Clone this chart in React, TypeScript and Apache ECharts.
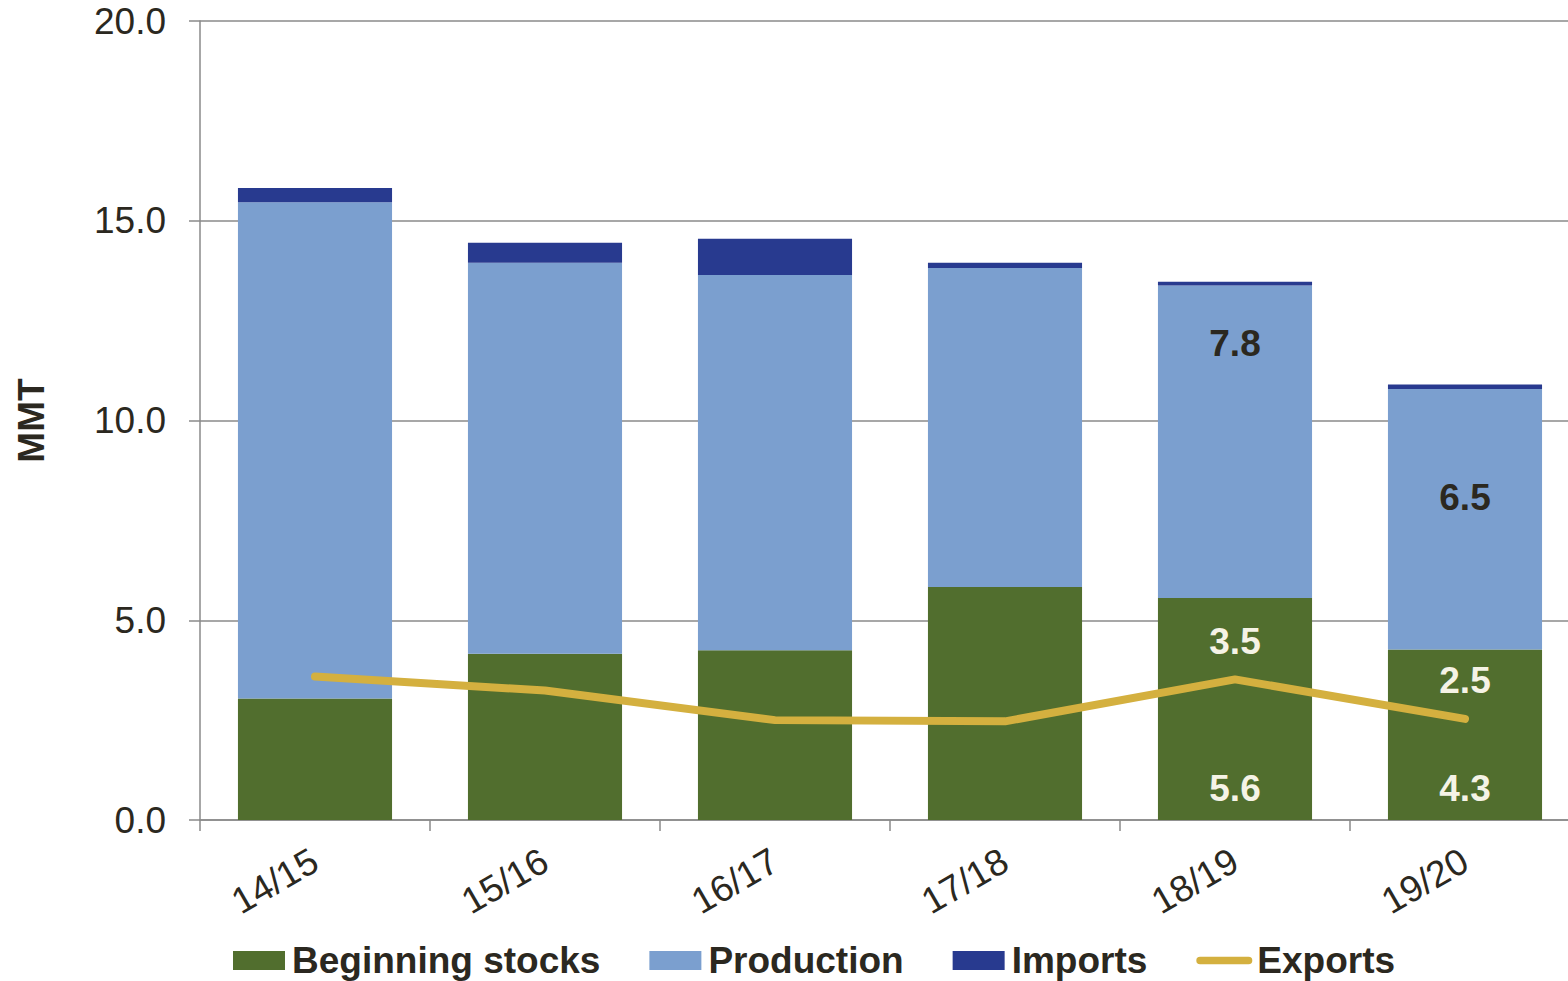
import React, { useEffect, useRef } from "react";
import * as echarts from "echarts";

const categories = ["14/15", "15/16", "16/17", "17/18", "18/19", "19/20"];
const beginningStocks = [3.04, 4.16, 4.25, 5.83, 5.56, 4.27];
const production = [12.42, 9.79, 9.39, 7.99, 7.82, 6.52];
const imports = [0.36, 0.5, 0.91, 0.13, 0.09, 0.11];
const exportsData = [3.59, 3.24, 2.5, 2.47, 3.52, 2.53];
const yTicks = [0, 5, 10, 15, 20];

const FONT = "'Liberation Sans', Arial, sans-serif";
const DARK = "#2b2820";
const CREAM = "#f5f3e6";
const GRAY = "#8a8a8a";
const GOLD = "#d4b03f";

const labelBase = {
  show: true,
  fontFamily: FONT,
  fontSize: 37,
  fontWeight: "bold",
  opacity: 1,
  textBorderWidth: 0,
  formatter: (p: any) => Number(p.value).toFixed(1),
};

export default function App() {
  const ref = useRef<HTMLDivElement>(null);
  useEffect(() => {
    if (!ref.current) return;
    const chart = echarts.init(ref.current, undefined, { renderer: "svg" });
    const bsData = beginningStocks.map((v, i) =>
      i >= 4
        ? { value: v, label: { ...labelBase, color: CREAM, position: "insideBottom", distance: 13 } }
        : v
    );
    const prodOffsets: Record<number, number> = { 4: -98, 5: -22 };
    const prodData = production.map((v, i) =>
      i >= 4
        ? { value: v, label: { ...labelBase, color: DARK, position: "inside", offset: [0, prodOffsets[i]] } }
        : v
    );
    const expLabelData = exportsData.map((v, i) => (i >= 4 ? v : "-"));
    chart.setOption({
      animation: false,
      textStyle: { fontFamily: FONT },
      grid: { left: 200, top: 21, bottom: 161, right: -12, outerBoundsMode: "none", containLabel: false },
      legend: {
        left: 233,
        top: 942,
        padding: 0,
        itemWidth: 56,
        itemHeight: 19,
        itemGap: 49,
        textStyle: { fontFamily: FONT, fontSize: 37, fontWeight: "bold", color: DARK, lineHeight: 37 },
        data: [
          { name: "Beginning stocks", icon: "path://M0,0 L52,0 L52,19 L0,19 Z" },
          { name: "Production", icon: "path://M0,0 L52,0 L52,19 L0,19 Z" },
          { name: "Imports", icon: "path://M0,0 L52,0 L52,19 L0,19 Z" },
          {
            name: "Exports",
            icon: "path://M4,0 L56,0 A4,4 0 0 1 56,8 L4,8 A4,4 0 0 1 4,0 Z",
            itemStyle: { color: GOLD },
          },
        ],
      },
      xAxis: {
        type: "category",
        data: categories,
        axisLine: { show: true, lineStyle: { color: GRAY, width: 1.5 } },
        axisTick: { show: true, length: 11, lineStyle: { color: GRAY, width: 1.5 } },
        axisLabel: { rotate: 30, margin: 38, fontSize: 37, color: DARK, fontFamily: FONT },
      },
      yAxis: {
        type: "value",
        min: yTicks[0],
        max: yTicks[yTicks.length - 1],
        interval: 5,
        name: "MMT",
        nameLocation: "middle",
        nameGap: 150,
        nameMoveOverlap: false,
        nameTextStyle: { fontFamily: FONT, fontSize: 37, fontWeight: "bold", color: DARK },
        axisLine: { show: true, lineStyle: { color: GRAY, width: 1.5 } },
        axisTick: { show: true, length: 11, lineStyle: { color: GRAY, width: 1.5 } },
        axisLabel: {
          margin: 34,
          fontSize: 37,
          color: DARK,
          fontFamily: FONT,
          formatter: (v: number) => v.toFixed(1),
        },
        splitLine: { show: true, lineStyle: { color: GRAY, width: 1.5 } },
      },
      series: [
        {
          name: "Beginning stocks",
          type: "bar",
          stack: "total",
          barWidth: "67%",
          itemStyle: { color: "#516e2e" },
          data: bsData,
        },
        {
          name: "Production",
          type: "bar",
          stack: "total",
          barWidth: "67%",
          itemStyle: { color: "#7b9fcf" },
          data: prodData,
        },
        {
          name: "Imports",
          type: "bar",
          stack: "total",
          barWidth: "67%",
          itemStyle: { color: "#283a8f" },
          data: imports,
        },
        {
          name: "Exports",
          type: "line",
          symbol: "none",
          z: 5,
          lineStyle: { color: GOLD, width: 8, cap: "round", join: "round" },
          itemStyle: { color: GOLD },
          data: exportsData,
        },
        {
          name: "Exports labels",
          type: "scatter",
          symbolSize: 1,
          z: 6,
          itemStyle: { color: GOLD, opacity: 1 },
          label: { ...labelBase, color: CREAM, position: "top", distance: 19 },
          data: expLabelData,
        },
      ],
    });
    return () => chart.dispose();
  }, []);
  return (
    <div
      ref={ref}
      style={{ position: "fixed", left: 0, top: 0, width: 1568, height: 981, background: "#fff" }}
    />
  );
}
